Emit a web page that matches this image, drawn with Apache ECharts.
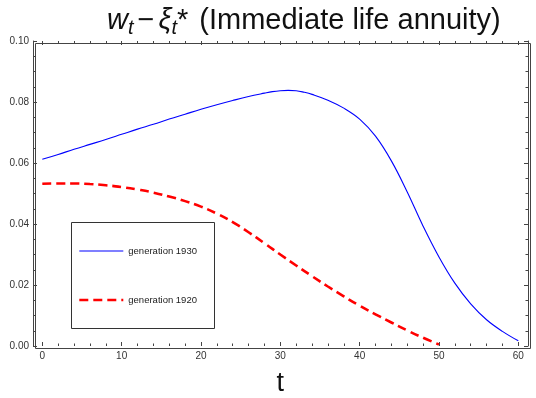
<!DOCTYPE html>
<html>
<head>
<meta charset="utf-8">
<script src="https://cdn.jsdelivr.net/npm/echarts@6/dist/echarts.min.js"></script>
<style>html,body{margin:0;padding:0;background:#fff}#c{width:536px;height:398px}</style>
</head>
<body>
<div id="c"></div>
<script>
// Data
const tBlue = [0,2,4,6,8,10,12,14,16,18,20,22,24,26,28,29,30,31,32,33,34,36,38,40,42,44,46,48,50,52,54,56,58,60];
const gen1930 = [0.0612,0.0628,0.0645,0.0661,0.0677,0.0694,0.0711,0.0727,0.0744,0.0760,0.0776,0.0791,0.0805,0.0818,0.0829,0.0834,0.0837,0.0838,0.0837,0.0832,0.0825,0.0806,0.0780,0.0744,0.0688,0.0607,0.0505,0.0393,0.0292,0.0206,0.0138,0.0086,0.0048,0.0017];
const tRed = [0,2,4,6,8,10,12,14,16,18,20,22,24,26,28,30,32,34,36,38,40,42,44,46,48,50];
const gen1920 = [0.0532,0.0533,0.0533,0.0531,0.0527,0.0521,0.0513,0.0503,0.0490,0.0475,0.0457,0.0434,0.0406,0.0373,0.0337,0.0300,0.0264,0.0229,0.0195,0.0163,0.0132,0.0104,0.0077,0.0051,0.0027,0.0005];
const xTicks = [0,10,20,30,40,50,60];
const yTicks = [0.00,0.02,0.04,0.06,0.08,0.10];
const seriesNames = ['generation 1930','generation 1920'];

const FONT = 'Liberation Sans';
const frameColor = '#444';
const chart = echarts.init(document.getElementById('c'), null, {renderer:'canvas'});

const G = {left:42.3, right:17.7, top:41, bottom:52};
const tickCommon = {show:true, inside:true, length:4, lineStyle:{color:frameColor, width:1}};
const minorCommon = {show:true, length:2.5, lineStyle:{color:frameColor, width:1}};

function xAx(pos, labels){
  return {
    type:'value', position:pos, min:xTicks[0], max:xTicks[xTicks.length-1], interval:10,
    axisLine:{show:false, onZero:false}, splitLine:{show:false},
    axisTick:tickCommon, minorTick:Object.assign({splitNumber:5}, minorCommon),
    axisLabel:{show:labels, margin:5, fontSize:10, color:'#333', fontFamily:FONT},
    name: labels ? 't' : '', nameLocation:'middle', nameGap:24,
    nameTextStyle:{fontSize:27, color:'#111', fontFamily:FONT}
  };
}
function yAx(pos, labels, off){
  return {
    type:'value', position:pos, offset:off, min:yTicks[0], max:yTicks[yTicks.length-1], interval:0.02,
    axisLine:{show:true, onZero:false, lineStyle:{color:frameColor, width:1}}, splitLine:{show:false},
    axisTick:tickCommon, minorTick:Object.assign({splitNumber:4}, minorCommon),
    axisLabel:{show:labels, margin:4, fontSize:10, color:'#333', fontFamily:FONT,
      formatter:v=>v.toFixed(2)}
  };
}

const option = {
  animation:false,
  backgroundColor:'#fff',
  title:{
    text:'{w|w}{s|t}{m|−}{w|ξ}{s|t}{n|*}{sp| }{n|(Immediate life annuity)}',
    left:107, top:4, padding:0,
    textStyle:{
      fontWeight:'normal',
      rich:{
        w:{fontSize:29, fontStyle:'italic', fontWeight:'normal', fontFamily:FONT, color:'#111', lineHeight:34},
        s:{fontSize:20, fontStyle:'italic', fontWeight:'normal', fontFamily:FONT, color:'#111', lineHeight:16, verticalAlign:'bottom'},
        m:{fontSize:29, fontWeight:'normal', fontFamily:FONT, color:'#111', lineHeight:34, padding:[0,4,0,4]},
        sp:{fontSize:29, fontWeight:'normal', fontFamily:FONT, color:'#111', lineHeight:34, padding:[0,3,0,0]},
        n:{fontSize:29, fontWeight:'normal', fontFamily:FONT, color:'#111', lineHeight:34}
      }
    }
  },
  grid:Object.assign({containLabel:false, outerBoundsMode:'none'}, G),
  xAxis:[xAx('bottom', true), xAx('top', false)],
  yAxis:[yAx('left', true, 9.3), yAx('right', false, 9.7)],
  legend:{
    orient:'vertical', left:78, top:246, padding:0, z:10,
    itemWidth:44, itemHeight:10, itemGap:39,
    selectedMode:false,
    itemStyle:{opacity:0},
    textStyle:{fontSize:9.5, color:'#222', fontFamily:FONT},
    data:[
      {name:seriesNames[0], lineStyle:{width:1.1}},
      {name:seriesNames[1], lineStyle:{width:2.6}}
    ]
  },
  graphic:[
    {type:'rect', left:33, top:41, shape:{width:495, height:305}, style:{fill:null, stroke:frameColor, lineWidth:1}, silent:true, z:-1},
    {type:'rect', left:71, top:222, shape:{width:143, height:106}, style:{fill:'#fff', stroke:'#333', lineWidth:1}, silent:true, z:1}
  ],
  series:[
    {name:seriesNames[0], type:'line', xAxisIndex:0, yAxisIndex:0, symbol:'none', smooth:0.4, z:3,
     lineStyle:{color:'#0000ff', width:1.1}, itemStyle:{color:'#0000ff'},
     data:tBlue.map((t,i)=>[t, gen1930[i]])},
    {name:seriesNames[1], type:'line', xAxisIndex:0, yAxisIndex:0, symbol:'none', smooth:true, z:3,
     lineStyle:{color:'#ff0000', width:2.6, type:[9,5]}, itemStyle:{color:'#ff0000'},
     data:tRed.map((t,i)=>[t, gen1920[i]])}
  ]
};
chart.setOption(option);
</script>
</body>
</html>
